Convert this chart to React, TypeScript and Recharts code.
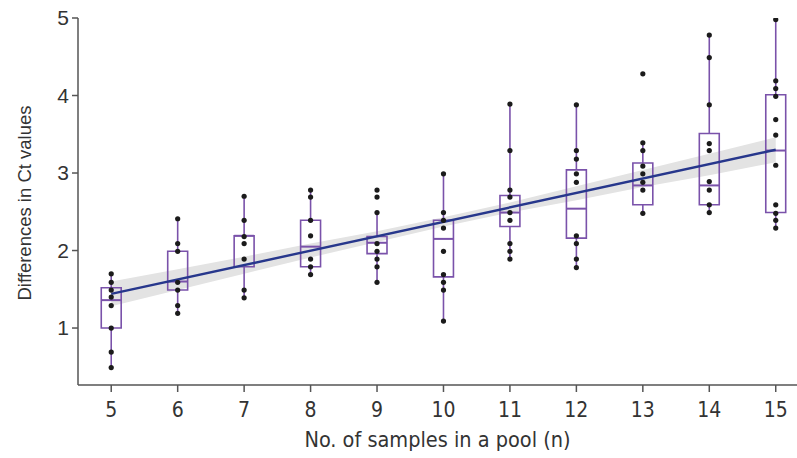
import {
  ComposedChart,
  Area,
  Line,
  Scatter,
  XAxis,
  YAxis,
  ReferenceArea,
  ReferenceLine,
} from "recharts"

// pool size (n) for each box
const poolSizes = [5, 6, 7, 8, 9, 10, 11, 12, 13, 14, 15]

// box plot summaries per pool size
const whiskerLow = [0.49, 1.19, 1.39, 1.69, 1.59, 1.09, 1.89, 1.78, 2.48, 2.49, 2.29]
const q1 = [1.0, 1.49, 1.79, 1.79, 1.96, 1.66, 2.31, 2.16, 2.59, 2.59, 2.49]
const median = [1.36, 1.6, 2.19, 2.05, 2.1, 2.15, 2.49, 2.54, 2.84, 2.84, 3.29]
const q3 = [1.52, 1.99, 2.19, 2.39, 2.18, 2.39, 2.71, 3.04, 3.13, 3.51, 4.01]
const whiskerHigh = [1.7, 2.41, 2.7, 2.78, 2.49, 2.99, 3.89, 3.88, 3.39, 4.78, 4.98]

// individual differences in Ct values
const samplePoints = [
  [1.7, 1.59, 1.49, 1.4, 1.29, 1.0, 0.69, 0.49],
  [2.41, 2.09, 1.99, 1.59, 1.49, 1.29, 1.19],
  [2.7, 2.39, 2.18, 2.09, 1.89, 1.49, 1.39],
  [2.78, 2.69, 2.39, 2.19, 1.89, 1.79, 1.69],
  [2.78, 2.69, 2.49, 2.09, 1.99, 1.89, 1.79, 1.59],
  [2.99, 2.49, 2.39, 2.29, 1.99, 1.69, 1.59, 1.49, 1.09],
  [3.89, 3.29, 2.78, 2.69, 2.49, 2.39, 2.09, 1.99, 1.89],
  [3.88, 3.29, 3.18, 2.99, 2.88, 2.19, 2.09, 1.89, 1.78],
  [4.28, 3.39, 3.29, 3.09, 2.99, 2.88, 2.78, 2.48],
  [4.78, 4.49, 3.88, 3.38, 3.29, 2.89, 2.78, 2.59, 2.49],
  [4.98, 4.19, 4.09, 3.99, 3.69, 3.49, 3.1, 2.59, 2.48, 2.39, 2.29],
]

// linear fit and its confidence band
const fitX = [5, 15]
const fitY = [1.44, 3.3]
const bandLow = [1.28, 1.49, 1.7, 1.91, 2.11, 2.31, 2.49, 2.65, 2.82, 2.97, 3.14]
const bandHigh = [1.6, 1.76, 1.92, 2.09, 2.25, 2.43, 2.62, 2.83, 3.04, 3.25, 3.46]

const yTicks = [1, 2, 3, 4, 5]

const BOX = "#7a52aa"
const FIT = "#27378c"
const AXIS = "#555"
const HALF = 0.15
const CONDENSED = "'Liberation Sans Narrow', 'DejaVu Sans Condensed', sans-serif"

const pointData = samplePoints.flatMap((vals, i) => vals.map(v => ({ x: poolSizes[i], y: v })))
const bandData = poolSizes.map((x, i) => ({ x, range: [bandLow[i], bandHigh[i]] }))
const fitData = fitX.map((x, i) => ({ x, y: fitY[i] }))

const YTitle = () => (
  <text
    x={24}
    y={203}
    transform="rotate(-90, 24, 203)"
    textAnchor="middle"
    dominantBaseline="central"
    fill="#333"
    fontSize={18.5}
    fontFamily="'Liberation Sans', Arial, sans-serif"
  >
    Differences in Ct values
  </text>
)

const XTitle = ({ viewBox }: any) => (
  <text
    x={viewBox.x + viewBox.width / 2}
    y={viewBox.y + 62}
    textAnchor="middle"
    fill="#333"
    fontSize={21.5}
    fontFamily={CONDENSED}
  >
    No. of samples in a pool (n)
  </text>
)

export default function App() {
  return (
    <div style={{ position: "absolute", left: 0, top: 0, width: 797, height: 458, background: "#fff" }}>
      <ComposedChart width={797} height={458} margin={{ top: 18, right: 0, bottom: 0, left: 0 }}>
        <XAxis
          dataKey="x"
          type="number"
          domain={[4.5, 15.32]}
          ticks={poolSizes}
          allowDataOverflow
          height={73}
          tickSize={7}
          tickMargin={10}
          stroke={AXIS}
          strokeWidth={1.5}
          tick={{ fill: "#333", fontSize: 21, fontFamily: CONDENSED }}
          label={<XTitle />}
        />
        <YAxis
          type="number"
          domain={[0.265, 5]}
          ticks={yTicks}
          allowDataOverflow
          width={78}
          tickSize={6}
          tickMargin={3}
          stroke={AXIS}
          strokeWidth={1.5}
          tick={{ fill: "#333", fontSize: 21, fontFamily: "'Liberation Sans', Arial, sans-serif" }}
          label={<YTitle />}
        />
        <Area
          data={bandData}
          dataKey="range"
          type="linear"
          fill="#e3e3e3"
          fillOpacity={1}
          stroke="none"
          isAnimationActive={false}
        />
        {poolSizes.map((n, i) => (
          <ReferenceArea
            key={`box-${n}`}
            x1={n - HALF}
            x2={n + HALF}
            y1={q1[i]}
            y2={q3[i]}
            fill="none"
            stroke={BOX}
            strokeWidth={1.6}
            fillOpacity={0}
            ifOverflow="visible"
          />
        ))}
        {poolSizes.map((n, i) => (
          <ReferenceLine
            key={`med-${n}`}
            segment={[{ x: n - HALF, y: median[i] }, { x: n + HALF, y: median[i] }]}
            stroke={BOX}
            strokeWidth={2}
            ifOverflow="visible"
          />
        ))}
        {poolSizes.map((n, i) => (
          <ReferenceLine
            key={`wl-${n}`}
            segment={[{ x: n, y: whiskerLow[i] }, { x: n, y: q1[i] }]}
            stroke={BOX}
            strokeWidth={1.6}
            ifOverflow="visible"
          />
        ))}
        {poolSizes.map((n, i) => (
          <ReferenceLine
            key={`wh-${n}`}
            segment={[{ x: n, y: q3[i] }, { x: n, y: whiskerHigh[i] }]}
            stroke={BOX}
            strokeWidth={1.6}
            ifOverflow="visible"
          />
        ))}
        <Line
          data={fitData}
          dataKey="y"
          type="linear"
          stroke={FIT}
          strokeWidth={2.4}
          dot={false}
          isAnimationActive={false}
        />
        <Scatter
          data={pointData}
          dataKey="y"
          fill="#1b1b1b"
          isAnimationActive={false}
          shape={(p: any) => <circle cx={p.cx} cy={p.cy} r={2.6} fill="#1b1b1b" />}
        />
      </ComposedChart>
    </div>
  )
}
